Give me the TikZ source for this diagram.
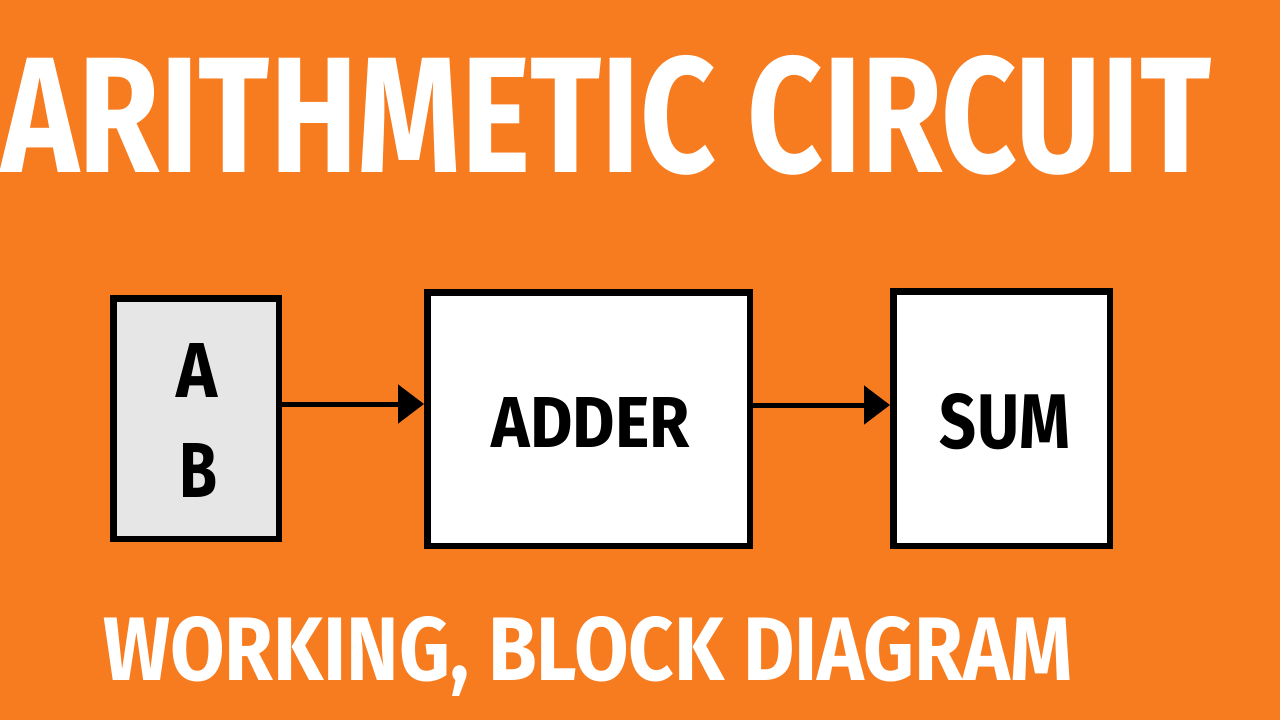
\documentclass[tikz,border=0pt]{standalone}
\usepackage{fontspec}
\setmainfont{Fira Sans}
\usetikzlibrary{arrows.meta}
\definecolor{bgorange}{HTML}{F77B1F}
\definecolor{boxgrey}{HTML}{E6E6E6}
\tikzset{
  blockbox/.style={draw=black, line width=6.5pt, inner sep=0pt, fill=white},
  conn/.style={line width=5pt, -{Triangle[length=26pt,width=38pt]}},
  bigtext/.style={text=white, inner sep=0pt, font=\bfseries},
  boxtext/.style={text=black, inner sep=0pt, font=\bfseries}
}
\begin{document}
\begin{tikzpicture}[x=1pt,y=-1pt]
\useasboundingbox (0,0) rectangle (1280,720);
\fill[bgorange] (0,0) rectangle (1280,720);
% title
\node[bigtext, anchor=base west] (title) at (1,172) {\resizebox{1209pt}{117pt}{ARITHMETIC CIRCUIT}};
\node[bigtext, anchor=base west] (subtitle) at (103,680) {\resizebox{969pt}{64pt}{WORKING, BLOCK DIAGRAM}};
% blocks
\node[blockbox, fill=boxgrey, minimum width=165.5pt, minimum height=240.5pt] (ab) at (196,418.5) {};
\node[blockbox, minimum width=322.5pt, minimum height=253.5pt] (adder) at (588.5,419) {};
\node[blockbox, minimum width=216.5pt, minimum height=254.5pt] (sum) at (1001.5,418.5) {};
% labels
\node[boxtext, anchor=base] (la) at (197.5,397) {\resizebox{41pt}{54pt}{A}};
\node[boxtext, anchor=base] (lb) at (199,497) {\resizebox{38pt}{54pt}{B}};
\node[boxtext, anchor=base] (ladder) at (591,447) {\resizebox{198pt}{50pt}{ADDER}};
\node[boxtext, anchor=base] (lsum) at (1005,448) {\resizebox{130pt}{55pt}{SUM}};
% connectors
\draw[conn] ([yshift=14.5pt]ab.east) -- ([yshift=15pt]adder.west);
\draw[conn] ([yshift=14pt]adder.east) -- ([yshift=13.5pt]sum.west);
\end{tikzpicture}
\end{document}
